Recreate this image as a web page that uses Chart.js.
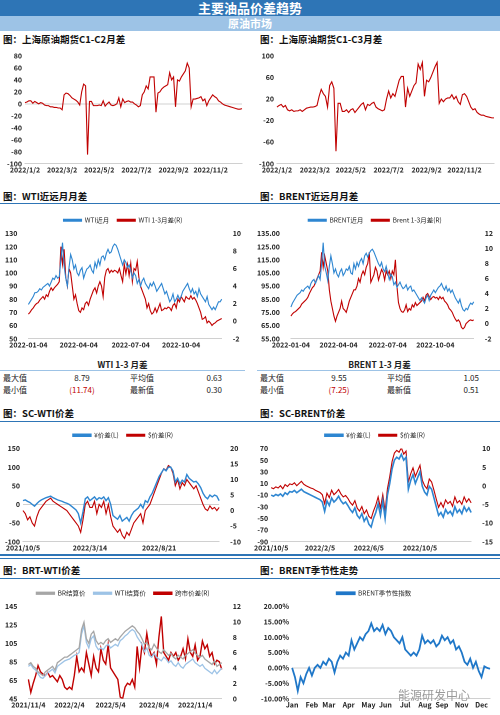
<!DOCTYPE html>
<html><head><meta charset="utf-8">
<script src="https://cdn.jsdelivr.net/npm/chart.js@4.4.0/dist/chart.umd.min.js"></script>
<style>
body{margin:0;width:500px;height:715px;background:#fff;position:relative;overflow:hidden;font-family:"Noto Sans CJK SC",sans-serif}
.a{position:absolute}
.bar1{left:0;top:0;width:500px;height:16px;background:#2e75b6;color:#fff;font-weight:bold;font-size:13px;text-align:center;line-height:16px}
.bar2{left:0;top:16px;width:500px;height:15px;background:#9dc3e6;color:#fff;font-weight:bold;font-size:11px;text-align:center;line-height:15px}
.t{font-size:9.5px;font-weight:bold;color:#111}
.ln{height:1px;background:#2e75b6}
canvas{position:absolute}
.tb{font-size:8px;color:#222}
</style></head><body>
<div class="a bar1">主要油品价差趋势</div>
<div class="a bar2">原油市场</div>
<div class="a t" style="left:3px;top:32px">图：上海原油期货C1-C2月差</div>
<div class="a t" style="left:260px;top:32px">图：上海原油期货C1-C3月差</div>
<div class="a t" style="left:3px;top:189px">图：WTI近远月月差</div>
<div class="a t" style="left:260px;top:189px">图：BRENT近远月月差</div>
<div class="a ln" style="left:0;top:203px;width:500px"></div>
<div class="a t" style="left:3px;top:406px">图：SC-WTI价差</div>
<div class="a t" style="left:260px;top:406px">图：SC-BRENT价差</div>
<div class="a ln" style="left:0;top:421px;width:500px"></div>
<div class="a ln" style="left:0;top:554px;width:500px;height:2px"></div>
<div class="a ln" style="left:0;top:558px;width:500px"></div>
<div class="a t" style="left:3px;top:563px">图：BRT-WTI价差</div>
<div class="a t" style="left:260px;top:563px">图：BRENT季节性走势</div>
<div class="a ln" style="left:0;top:578px;width:500px"></div>
<div id="tables"></div>
<canvas id="c1" width="248" height="130" style="left:0;top:46px"></canvas>
<canvas id="c2" width="248" height="130" style="left:252px;top:46px"></canvas>
<canvas id="c3" width="248" height="146" style="left:0;top:205px"></canvas>
<canvas id="c4" width="248" height="146" style="left:252px;top:205px"></canvas>
<canvas id="c5" width="248" height="132" style="left:0;top:422px"></canvas>
<canvas id="c6" width="248" height="132" style="left:252px;top:422px"></canvas>
<canvas id="c7" width="248" height="135" style="left:0;top:580px"></canvas>
<canvas id="c8" width="248" height="135" style="left:252px;top:580px"></canvas>
<div class="a" style="left:398px;top:686px;font-size:12px;color:#9a9a9a">能源研发中心</div>
<script>
// ---------- DATA ----------
const c1c2 = [2,3,5,5,1,4,2,0,2,1,-2,-3,-3,-5,-5,-6,-6,-7,-7,-10,15,18,17,14,10,8,6,3,-2,20,33,30,-85,4,4,-3,-3,-3,-2,-3,5,-4,0,3,-2,-3,-2,0,10,-5,8,2,4,5,3,3,0,-2,-5,-3,15,20,30,25,45,45,45,-14,18,20,25,28,30,32,52,40,45,-5,40,38,45,50,55,68,60,-5,8,8,9,10,12,5,8,-3,5,10,15,12,10,5,3,0,-2,-3,-4,-5,-6,-7,-8,-9,-9,-8];
const c1c2Ticks = ["2022/1/2","2022/3/2","2022/5/2","2022/7/2","2022/9/2","2022/11/2"];
const c1c3 = [5,8,10,5,8,0,-2,0,-3,-2,-2,0,-3,0,3,4,5,5,6,8,25,38,30,25,5,45,52,40,-77,12,12,-3,-3,0,-5,0,2,-5,0,5,10,13,0,10,8,12,14,5,2,0,-2,0,20,35,22,30,25,40,55,62,62,5,40,25,35,45,50,85,75,88,25,55,52,60,70,80,88,12,20,15,20,22,22,28,20,25,15,10,28,30,25,15,5,0,2,-5,-8,-10,-10,-12,-13,-14,-15,-15];
const c1c3Ticks = ["2022/1/2","2022/3/2","2022/5/2","2022/7/2","2022/9/2","2022/11/2"];
const wti = [76,78,80,82,85,85,86,88,87,89, 90,91,92,90,93,96,95,98,96,97, 110,123,105,96,90,104,114,110,103,106,100, 98,102,104,96,100,103,104,106,102,100,108, 104,110,106,112,113,110,115,118,115,116, 120,122,121,118,114,110,106,110,108,104,106, 102,96,100,98,92,95,90,94,96,92, 90,88,92,90,93,90,86,88,90,92,88, 84,86,82,78,80,84,78,80,83,80, 82,86,88,90,92,88,85,88,84,86,82, 88,84,82,80,78,82,76,74,72,74, 72,75,78,78,80];
const wti13 = [0.8,1,1.3,1.5,1.8,2,2.1,2.4,2.6,2.8, 2.5,3,2.8,3.4,3.8,3.5,3.8,4,4.2,4.5, 8.5,6.5,8.2,5,4,6,5.5,4,2.5,3,2, 1.2,1,1.5,1.3,2,2.2,1.8,2.5,3,3.5,3.8, 3.2,4,4.5,4,2.8,5,5.8,6,5.5,5.8, 5.6,5.8,5.7,5.5,6,5.2,4.5,6.5,5.4,6.5,5.2, 6.6,4.5,6,5.8,6.8,5,4,3.5,3,2.5, 1.5,2,1.2,0.8,1,1.5,1,1.5,2,1.2,1.3, 1.5,1.4,1.6,1.5,1.2,1.8,2,1.5,2.5,2.2, 2.8,2.5,2.2,2.8,2.6,2.5,2.9,2.5,2.7,2.4,2, 1.5,1,0.2,0.3,0.5,-0.2,0,-0.2,-0.5,-0.3, -0.2,0,0.1,0.2,0.3];
const brent = [79,82,84,86,88,89,90,92,91,93, 94,95,93,97,99,100,97,100,103,100, 112,128,110,105,99,110,118,112,105,108,104, 102,106,108,103,105,108,107,110,105,104,112, 108,113,110,114,116,112,118,120,117,120, 122,123,121,118,115,112,110,113,108,106,110, 105,100,104,102,96,98,94,96,98,95, 93,94,96,92,94,95,91,92,90,88,86, 84,86,84,82,86,88,84,88,90,92, 90,92,94,95,97,94,92,95,91,93,90, 92,89,86,84,82,85,80,77,76,78, 77,80,82,81,83];
const brent13 = [1,1.3,1.5,1.6,1.8,2,2.2,2.6,2.8,3, 3.2,3.5,4,4.4,4.8,5,5.5,6,6.5,7, 9.5,7.5,9,8,7,4.5,3,2,1,0.3,1, 1.5,2,3,2,1.8,1.5,2.2,3,3.5,4,4.5, 4.5,5,6,5.5,6.5,7,6.5,7.5,8,9.5, 5.5,6,6.5,7.5,7,5.8,6.5,7.2,6.8,5.8,7, 6.5,7,6,7,6.5,8.5,5,2.8,2,1.6, 1.5,1.8,2.5,1.6,2,1.8,2.5,2.2,2.8,2.4,2.6, 2.8,3,3.5,3,3.8,4,3.6,3.2,3.5,3.6, 3.4,3.5,3.2,3.6,3.3,3.5,3,2.8,2.5,2,1.8, 1.5,1,0.6,0.3,0.5,0.2,-0.5,-0.7,-0.5,0, 0.2,0.4,0.5,0.4,0.5];
const qTicks = ["2022-01-04","2022-04-04","2022-07-04","2022-10-04"];
const wtiStats = ["8.79","0.63","(11.74)","0.30"];
const brentStats = ["9.55","1.05","(7.25)","0.51"];
const scWtiY = [10,12,8,5,0,-5, 2,8,12,15,18,20,22,18, 15,12,10,8,5,3,0,-5,-10,-15, -25,-50,-20,15,20,10, 15,20,12,18,15,20,10,18,0, -30,-35,-40,-30,-45,-40,-35,-45,-30, -20,-15,-10,0,-10,10,5, 20,30,45,60,75,85,95,90,100,100, 90,60,70,55,65,60,80, 70,65,60,62,55,45,30,20,15, 25,20,25,22,10];
const scWtiD = [0,-1,-3,-2,-4,-5, -2,0,1,2,3,3.5,4,3, 2.5,2,1.5,1,0.5,0,-1,-2,-3,-4, -5,-7,-3,2,3,1, 1,3,-1,2,1,3,-1,2,-2, -5,-6,-7,-6,-8,-9,-7,-8,-6, -4,-3,-2,-1,-4,0,1, 2,4,6,8,10,12,13.5,13,14.5,14, 12,8,10,7,9,8,10, 9,8,7,8,6,4,2,0.5,0, 1.5,0.5,1,0,1];
const scWtiTicks = ["2021/10/5","2022/3/14","2022/8/21"];
const scBrY = [-10,-12,-9,-11,-8,-12,-6,-9,-4,-5,-2,-6,-3,0,-4, -6,-8,-10,-12,-14,-16,-18,-22,-38, -20,-28,-15,-22,-18,-12,-20,-25,-22, -28,-35,-40,-32,-45,-50,-42,-55,-48,-60,-65, -50,-40,-25,-45,-20,-50, -10,10,35,50,55,52, 60,50,55,0, 15,25,10,20,30,5,-5, -10,5,0,-15,-30,-45, -40,-48,-35,-42,-38,-45,-30,-40,-35,-42,-30,-38,-32,-40];
const scBrD = [-0.5,-0.8,-0.3,-0.6,0,-0.8,0.3,-0.2,0.5,0.3,0.8,0,0.6,1.2,0.4, 0,-0.3,-0.6,-0.8,-1.2,-1.5,-1.8,-2.4,-4.8, -2,-3.2,-1.2,-2.4,-1.8,-1,-2.2,-3,-2.6, -3.4,-4.5,-5.2,-4,-6,-6.8,-5.6,-7.5,-6.5,-8.2,-8.8, -6.8,-5.2,-3,-6,-2.4,-6.8, -0.8,2.5,6.5,8.8,9.5,9, 10.2,8.5,9.3,1, 3.2,4.8,2.5,4,5.5,1.5,0, -0.8,1.8,1,-1.2,-3.6,-5.8, -4.5,-5.8,-3.8,-4.8,-4.2,-5.5,-3,-4.6,-4,-5,-3,-4.4,-3.5,-4.6];
const scBrTicks = ["2021/10/5","2022/2/5","2022/6/5","2022/10/5"];
const brSettle = [82,84,80,78,74,72, 70,74,76,78,80,76, 84,86,88,90,90,92, 94,96,98,100, 120,128,110,105,115,118,108,104, 106,104,108,110,106,108, 110,108,112,115,118,120, 122,124,122,118,115,110, 104,106,100,98,104,100, 96,94,98,95,92,94, 90,88,92,90,88,92, 94,96,98,94,92,90, 92,88,86,84,82,86, 80,82,84];
const wtiSettle = [80,82,78,76,72,68, 67,70,73,75,77,73, 80,82,84,86,87,88, 90,92,93,95, 115,124,106,100,110,113,102,98, 100,98,102,104,100,102, 104,102,108,110,113,115, 118,120,118,112,108,104, 96,100,92,90,94,90, 88,86,90,88,84,86, 82,80,84,80,78,82, 84,86,88,84,82,80, 82,78,76,74,72,76, 72,75,78];
const spread = [2.5,0.8,2,3,4.3,3.5, 3.2,3,3.4,2.8,3,2.6, 2.2,3,2.5,1.5,1.2,1.5, 1.2,3,5.5,3.5, 4,3.5,6,4.5,3,5.5,4,3.5, 6.5,5,4.5,7,4,3.5, 3,2.5,0.2,0,1.5,2, 1.8,2.5,1.5,6.8,4,7, 6,8.5,6.5,5.5,6,4.5, 8,10.7,6,5.5,5,6, 5.5,6,5,5.5,6.5,5.2, 7.8,6,5.5,7,5,5.5, 7.5,6.5,7,5.5,6,4.5, 5,4.8,3.8];
const brtTicks = ["2021/11/4","2022/2/4","2022/5/4","2022/8/4","2022/11/4"];
const season = [0,-3,-7.5,-3,-5,-2,0,-2.5,0,1,0,2,1,3,2,-1.5,2,4,3,5,4,9,6,8,10,9,11,12,14.5,12,13,12,14,11,13,12,10,9,8,10,6,5,4,5,4,6,10.5,8,9,8,9,7,8,10.5,9,10,8,9,6,7,5,2,1,3,0,2,-1,-3,0.5,0,-0.3];
const monthTicks = ["Jan","Feb","Mar","Apr","May","Jun","Jul","Aug","Sep","Nov","Dec"];

// ---------- HELPERS ----------
const F = "'Noto Sans CJK SC', sans-serif";
Chart.defaults.font.family = F;
Chart.defaults.font.size = 7;
Chart.defaults.color = '#222';
const RED = '#c00000', BLUE = '#2e86d1';
function place(n, ticks, span){
  const lab = new Array(n).fill('');
  const step = (n-1)*span/(ticks.length-1);
  ticks.forEach((t,i)=>{ lab[Math.round(i*step)] = t; });
  return lab;
}
function zeroGrid(ctx){ return ctx.tick && ctx.tick.value===0 ? '#d0d0d0' : 'rgba(0,0,0,0)'; }
function ds(label,data,color,axis,w){ return {label,data,borderColor:color,backgroundColor:color,borderWidth:w||1.1,pointRadius:0,yAxisID:axis||'y',tension:0}; }
function xAxis(){ return {ticks:{autoSkip:false,maxRotation:0,minRotation:0,font:{size:7,weight:'bold'},padding:2},grid:{display:false,drawTicks:false},border:{display:true,color:'#d0d0d0'}}; }
function yAxis(min,max,step,pos,fmt,grid){ return {position:pos||'left',min,max,ticks:{stepSize:step,font:{size:7,weight:'bold'},callback:fmt||(v=>v)},grid:grid?{color:zeroGrid,drawTicks:false}:{display:false},border:{display:false}}; }
function legendOpt(show){ return {display:show,position:'top',labels:{boxWidth:18,boxHeight:2,font:{size:6.5},padding:8}}; }
function make(id, labels, datasets, scales, legend, pad){
  new Chart(document.getElementById(id),{type:'line',data:{labels,datasets},
    options:{responsive:false,animation:false,devicePixelRatio:2,layout:{padding:pad||{left:2,right:4,top:4,bottom:0}},
      plugins:{legend:legendOpt(legend),tooltip:{enabled:false}},scales}});
}

// ---------- CHARTS ----------
make('c1', place(c1c2.length,c1c2Ticks,0.86), [ds('C1-C2',c1c2,RED)],
  {x:xAxis(), y:yAxis(-100,80,20,'left',null,true)}, false, {left:4,right:6,top:10,bottom:0});
make('c2', place(c1c3.length,c1c3Ticks,0.86), [ds('C1-C3',c1c3,RED)],
  {x:xAxis(), y:yAxis(-100,100,20,'left',null,true)}, false, {left:4,right:6,top:10,bottom:0});
make('c3', place(wti.length,qTicks,0.79), [ds('WTI近月',wti,BLUE,'y'),ds('WTI 1-3月差(R)',wti13,RED,'y1')],
  {x:xAxis(), y:yAxis(50,130,10,'left'), y1:yAxis(-2,10,2,'right')}, true);
make('c4', place(brent.length,qTicks,0.79), [ds('BRENT近月',brent,BLUE,'y'),ds('Brent 1-3月差(R)',brent13,RED,'y1')],
  {x:xAxis(), y:yAxis(55,135,10,'left',v=>v.toFixed(2)), y1:yAxis(-2,12,2,'right')}, true);
make('c5', place(scWtiY.length,scWtiTicks,0.69), [ds('¥价差(L)',scWtiY,BLUE,'y',1.4),ds('$价差(R)',scWtiD,RED,'y1',1.1)],
  {x:xAxis(), y:yAxis(-100,150,50,'left',null,true), y1:yAxis(-10,20,5,'right')}, true, {left:2,right:4,top:2,bottom:0});
make('c6', place(scBrY.length,scBrTicks,0.74), [ds('¥价差(L)',scBrY,BLUE,'y',1.6),ds('$价差(R)',scBrD,RED,'y1',1.1)],
  {x:xAxis(), y:yAxis(-90,70,20,'left',null,true), y1:yAxis(-15,10,5,'right')}, true, {left:2,right:4,top:2,bottom:0});
make('c7', place(brSettle.length,brtTicks,0.86), [ds('BR结算价',brSettle,'#a6a6a6','y',1.3),ds('WTI结算价',wtiSettle,'#9dc3e6','y',1.3),ds('跨市价差(R)',spread,RED,'y1',1.4)],
  {x:xAxis(), y:yAxis(45,145,20,'left'), y1:yAxis(0,12,2,'right')}, true, {left:2,right:4,top:2,bottom:4});
const sx = xAxis(); sx.offset=false;
make('c8', place(season.length,monthTicks,0.95), [ds('BRENT季节性指数',season,'#1f77c8','y',1.8)],
  {x:sx, y:yAxis(-10,20,5,'left',v=>v.toFixed(2)+'%',true)}, true, {left:6,right:10,top:2,bottom:4});

// ---------- TABLES ----------
function table(left, title, s){
  const d=document.getElementById('tables');
  d.insertAdjacentHTML('beforeend',
   `<div class="a tb" style="left:${left}px;top:358px;width:245px;text-align:center;font-weight:bold;font-size:8.5px">${title}</div>
    <div class="a ln" style="left:${left}px;top:370px;width:245px;background:#9dc3e6"></div>
    <div class="a tb" style="left:${left+3}px;top:372px">最大值</div>
    <div class="a tb" style="left:${left+62}px;top:372px;width:40px;text-align:center">${s[0]}</div>
    <div class="a tb" style="left:${left+130}px;top:372px">平均值</div>
    <div class="a tb" style="left:${left+190}px;top:372px;width:32px;text-align:right">${s[1]}</div>
    <div class="a tb" style="left:${left+3}px;top:384px">最小值</div>
    <div class="a tb" style="left:${left+62}px;top:384px;width:40px;text-align:center;color:#c00000">${s[2]}</div>
    <div class="a tb" style="left:${left+130}px;top:384px">最新值</div>
    <div class="a tb" style="left:${left+190}px;top:384px;width:32px;text-align:right">${s[3]}</div>`);
}
table(0,'WTI 1-3 月差',wtiStats);
table(257,'BRENT 1-3 月差',brentStats);
</script>
</body></html>
